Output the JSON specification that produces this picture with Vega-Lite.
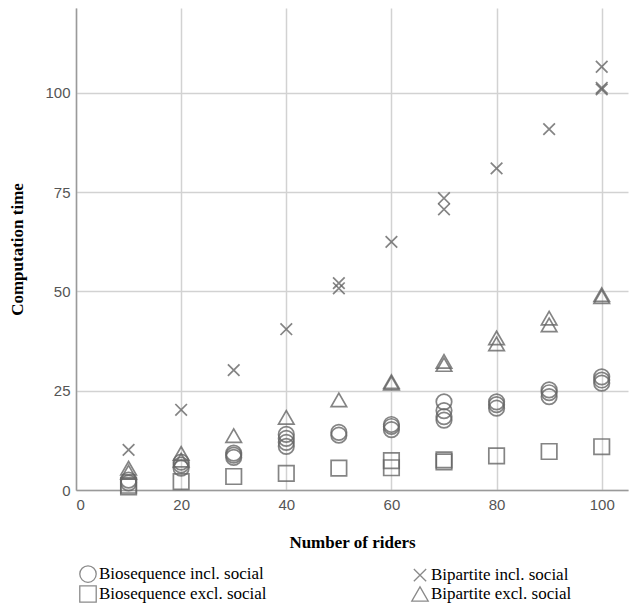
{
  "$schema": "https://vega.github.io/schema/vega-lite/v6.json",
  "autosize": "none",
  "width": 552,
  "height": 482,
  "padding": {"left": 76, "top": 8, "right": 1, "bottom": 119},
  "background": "white",
  "data": {
    "values": [
      {"riders": 10, "time": 2.5, "method": "Biosequence incl. social"},
      {"riders": 10, "time": 1.8, "method": "Biosequence incl. social"},
      {"riders": 20, "time": 5.5, "method": "Biosequence incl. social"},
      {"riders": 20, "time": 6.3, "method": "Biosequence incl. social"},
      {"riders": 20, "time": 7.0, "method": "Biosequence incl. social"},
      {"riders": 30, "time": 8.2, "method": "Biosequence incl. social"},
      {"riders": 30, "time": 8.8, "method": "Biosequence incl. social"},
      {"riders": 30, "time": 9.3, "method": "Biosequence incl. social"},
      {"riders": 40, "time": 11.0, "method": "Biosequence incl. social"},
      {"riders": 40, "time": 12.0, "method": "Biosequence incl. social"},
      {"riders": 40, "time": 13.0, "method": "Biosequence incl. social"},
      {"riders": 40, "time": 14.0, "method": "Biosequence incl. social"},
      {"riders": 50, "time": 13.8, "method": "Biosequence incl. social"},
      {"riders": 50, "time": 14.5, "method": "Biosequence incl. social"},
      {"riders": 60, "time": 15.2, "method": "Biosequence incl. social"},
      {"riders": 60, "time": 16.0, "method": "Biosequence incl. social"},
      {"riders": 60, "time": 16.5, "method": "Biosequence incl. social"},
      {"riders": 70, "time": 17.6, "method": "Biosequence incl. social"},
      {"riders": 70, "time": 18.5, "method": "Biosequence incl. social"},
      {"riders": 70, "time": 20.0, "method": "Biosequence incl. social"},
      {"riders": 70, "time": 22.2, "method": "Biosequence incl. social"},
      {"riders": 80, "time": 20.6, "method": "Biosequence incl. social"},
      {"riders": 80, "time": 21.5, "method": "Biosequence incl. social"},
      {"riders": 80, "time": 22.2, "method": "Biosequence incl. social"},
      {"riders": 90, "time": 23.5, "method": "Biosequence incl. social"},
      {"riders": 90, "time": 24.5, "method": "Biosequence incl. social"},
      {"riders": 90, "time": 25.2, "method": "Biosequence incl. social"},
      {"riders": 100, "time": 26.9, "method": "Biosequence incl. social"},
      {"riders": 100, "time": 27.7, "method": "Biosequence incl. social"},
      {"riders": 100, "time": 28.5, "method": "Biosequence incl. social"},
      {"riders": 10, "time": 0.8, "method": "Biosequence excl. social"},
      {"riders": 10, "time": 1.2, "method": "Biosequence excl. social"},
      {"riders": 20, "time": 2.1, "method": "Biosequence excl. social"},
      {"riders": 30, "time": 3.4, "method": "Biosequence excl. social"},
      {"riders": 40, "time": 4.2, "method": "Biosequence excl. social"},
      {"riders": 50, "time": 5.5, "method": "Biosequence excl. social"},
      {"riders": 60, "time": 5.6, "method": "Biosequence excl. social"},
      {"riders": 60, "time": 7.4, "method": "Biosequence excl. social"},
      {"riders": 70, "time": 7.1, "method": "Biosequence excl. social"},
      {"riders": 70, "time": 7.6, "method": "Biosequence excl. social"},
      {"riders": 80, "time": 8.6, "method": "Biosequence excl. social"},
      {"riders": 90, "time": 9.7, "method": "Biosequence excl. social"},
      {"riders": 100, "time": 10.9, "method": "Biosequence excl. social"},
      {"riders": 10, "time": 10.1, "method": "Bipartite incl. social"},
      {"riders": 20, "time": 20.2, "method": "Bipartite incl. social"},
      {"riders": 30, "time": 30.2, "method": "Bipartite incl. social"},
      {"riders": 40, "time": 40.5, "method": "Bipartite incl. social"},
      {"riders": 50, "time": 50.8, "method": "Bipartite incl. social"},
      {"riders": 50, "time": 52.1, "method": "Bipartite incl. social"},
      {"riders": 60, "time": 62.5, "method": "Bipartite incl. social"},
      {"riders": 70, "time": 70.7, "method": "Bipartite incl. social"},
      {"riders": 70, "time": 73.5, "method": "Bipartite incl. social"},
      {"riders": 80, "time": 81.0, "method": "Bipartite incl. social"},
      {"riders": 90, "time": 90.9, "method": "Bipartite incl. social"},
      {"riders": 100, "time": 100.9, "method": "Bipartite incl. social"},
      {"riders": 100, "time": 101.3, "method": "Bipartite incl. social"},
      {"riders": 100, "time": 106.6, "method": "Bipartite incl. social"},
      {"riders": 10, "time": 4.5, "method": "Bipartite excl. social"},
      {"riders": 10, "time": 5.5, "method": "Bipartite excl. social"},
      {"riders": 20, "time": 7.5, "method": "Bipartite excl. social"},
      {"riders": 20, "time": 9.2, "method": "Bipartite excl. social"},
      {"riders": 30, "time": 13.7, "method": "Bipartite excl. social"},
      {"riders": 40, "time": 18.3, "method": "Bipartite excl. social"},
      {"riders": 50, "time": 22.7, "method": "Bipartite excl. social"},
      {"riders": 60, "time": 26.9, "method": "Bipartite excl. social"},
      {"riders": 60, "time": 27.3, "method": "Bipartite excl. social"},
      {"riders": 70, "time": 31.6, "method": "Bipartite excl. social"},
      {"riders": 70, "time": 32.4, "method": "Bipartite excl. social"},
      {"riders": 80, "time": 36.8, "method": "Bipartite excl. social"},
      {"riders": 80, "time": 38.3, "method": "Bipartite excl. social"},
      {"riders": 90, "time": 41.6, "method": "Bipartite excl. social"},
      {"riders": 90, "time": 43.3, "method": "Bipartite excl. social"},
      {"riders": 100, "time": 48.7, "method": "Bipartite excl. social"},
      {"riders": 100, "time": 49.2, "method": "Bipartite excl. social"}
    ]
  },
  "mark": {"type": "point", "filled": false, "size": 240, "strokeWidth": 1.7, "color": "#666666", "opacity": 0.8},
  "encoding": {
    "x": {
      "field": "riders", "type": "quantitative",
      "scale": {"domain": [0, 105], "nice": false, "zero": true},
      "axis": {"values": [0, 20, 40, 60, 80, 100], "title": "Number of riders", "titlePadding": 22, "labelPadding": 7}
    },
    "y": {
      "field": "time", "type": "quantitative",
      "scale": {"domain": [0, 121.4], "nice": false},
      "axis": {"values": [0, 25, 50, 75, 100], "title": "Computation time", "titlePadding": 18, "labelPadding": 6}
    },
    "shape": {
      "field": "method", "type": "nominal",
      "scale": {
        "domain": ["Biosequence incl. social", "Biosequence excl. social", "Bipartite incl. social", "Bipartite excl. social"],
        "range": ["circle", "square", "M-0.75,-0.75L0.75,0.75M-0.75,0.75L0.75,-0.75", "triangle-up"]
      },
      "legend": {
        "title": null,
        "orient": "none",
        "legendX": 3,
        "legendY": 557,
        "columns": 2,
        "columnPadding": 142,
        "rowPadding": -3,
        "symbolSize": 270,
        "symbolStrokeColor": "#8a8a8a",
        "symbolStrokeWidth": 1.3,
        "symbolFillColor": "transparent",
        "symbolOpacity": 1,
        "labelFont": "Liberation Serif",
        "labelFontSize": 17,
        "labelColor": "#000",
        "labelOffset": 2,
        "labelLimit": 300
      }
    }
  },
  "config": {
    "view": {"stroke": null},
    "axis": {
      "labelFont": "Liberation Sans",
      "labelFontSize": 15,
      "labelColor": "#555",
      "titleFont": "Liberation Serif",
      "titleFontSize": 17,
      "titleFontWeight": "bold",
      "titleColor": "#000",
      "ticks": false,
      "grid": true,
      "gridColor": "#d2d2d2",
      "gridWidth": 1.5,
      "domainColor": "#9a9a9a",
      "domainWidth": 1.5
    }
  }
}
